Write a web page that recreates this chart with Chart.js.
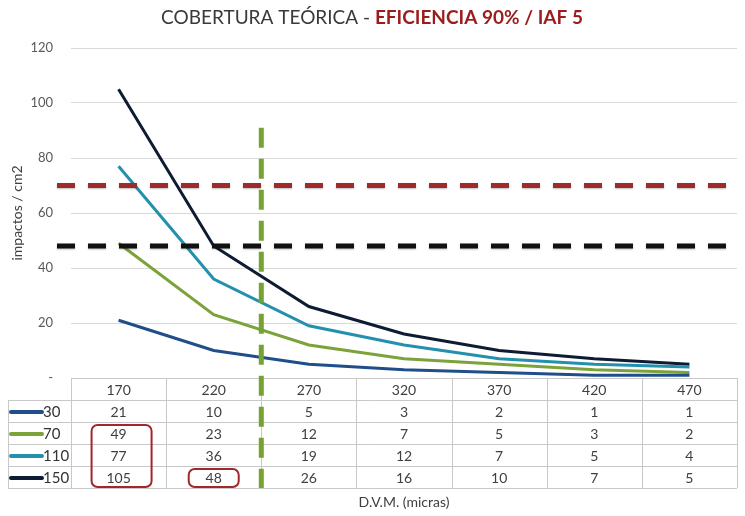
<!DOCTYPE html>
<html>
<head>
<meta charset="utf-8">
<script src="https://cdn.jsdelivr.net/npm/chart.js@4.4.1/dist/chart.umd.min.js"></script>
<style>
  html, body { margin: 0; padding: 0; background: #fff; }
</style>
</head>
<body>
<canvas id="chart" width="745" height="516"></canvas>
<script>
// D.V.M. (micras) categories and the four series (impactos / cm2)
const labels = ["170", "220", "270", "320", "370", "420", "470"];
const seriesNames = ["30", "70", "110", "150"];
const s30 = [21, 10, 5, 3, 2, 1, 1];
const s70 = [49, 23, 12, 7, 5, 3, 2];
const s110 = [77, 36, 19, 12, 7, 5, 4];
const s150 = [105, 48, 26, 16, 10, 7, 5];
const yTicks = [0, 20, 40, 60, 80, 100, 120];

// reference lines: horizontal thresholds and the vertical D.V.M. marker
const hLines = [70, 48];
const hLineColors = ["#9e2a2b", "#111111"];
const vLine = 245; // between 220 and 270

const seriesColors = ["#1f4e8a", "#7ba33a", "#2390ae", "#0d1b33"];
const seriesData = [s30, s70, s110, s150];

// red boxes around table cells: column index, first/last series row
const highlights = [
  { col: 0, from: 1, to: 3, half: 30, dx: 3 },
  { col: 1, from: 3, to: 3, half: 25, dx: 0 },
];

Chart.defaults.font.family = "Lato, 'Open Sans', sans-serif";

const TEXT = "#404040";
const BORDER = "#c8c8c8";
const ROW_H = 22;

const extras = {
  id: "extras",
  afterDatasetsDraw(chart) {
    const { ctx, chartArea, scales } = chart;
    const y = scales.y;
    ctx.save();
    ctx.lineWidth = 5;
    ctx.setLineDash([18, 13]);
    ctx.shadowColor = "rgba(0,0,0,0.25)";
    ctx.shadowBlur = 2;
    ctx.shadowOffsetY = 1;
    hLines.forEach((v, i) => {
      const py = y.getPixelForValue(v);
      ctx.strokeStyle = hLineColors[i];
      ctx.beginPath();
      ctx.moveTo(chartArea.left - 14, py);
      ctx.lineTo(chartArea.right - 10, py);
      ctx.stroke();
    });
    ctx.restore();
  },
  afterDraw(chart) {
    const { ctx, chartArea, scales } = chart;
    const x = scales.x, y = scales.y;
    const n = labels.length;
    const colW = (chartArea.right - chartArea.left) / n;
    const top = chartArea.bottom;
    const legendLeft = 8;
    const bottom = top + ROW_H * (seriesNames.length + 1);

    ctx.save();
    // table grid
    ctx.strokeStyle = BORDER;
    ctx.lineWidth = 1;
    ctx.beginPath();
    ctx.moveTo(chartArea.left, top + 0.5);
    ctx.lineTo(chartArea.right, top + 0.5);
    for (let r = 1; r <= seriesNames.length + 1; r++) {
      const py = Math.round(top + r * ROW_H) + 0.5;
      ctx.moveTo(legendLeft, py);
      ctx.lineTo(chartArea.right, py);
    }
    ctx.moveTo(legendLeft + 0.5, top + ROW_H);
    ctx.lineTo(legendLeft + 0.5, bottom);
    for (let i = 0; i <= n; i++) {
      const px = Math.round(chartArea.left + i * colW) + 0.5;
      ctx.moveTo(px, top);
      ctx.lineTo(px, bottom);
    }
    ctx.stroke();

    // header and values
    const cellFont = "14px Lato";
    ctx.fillStyle = TEXT;
    ctx.font = cellFont;
    ctx.textAlign = "center";
    ctx.textBaseline = "middle";
    labels.forEach((l, i) => {
      ctx.fillText(l, x.getPixelForValue(i), top + ROW_H / 2 + 1);
    });
    seriesData.forEach((arr, r) => {
      const cy = top + (r + 1) * ROW_H + ROW_H / 2 + 1;
      arr.forEach((v, i) => ctx.fillText(String(v), x.getPixelForValue(i), cy));
      // legend key
      ctx.strokeStyle = seriesColors[r];
      ctx.lineWidth = 4;
      ctx.lineCap = "round";
      ctx.beginPath();
      ctx.moveTo(11, cy);
      ctx.lineTo(42, cy);
      ctx.stroke();
      ctx.textAlign = "left";
      ctx.fillStyle = "#333";
      ctx.font = "15px Lato";
      ctx.fillText(seriesNames[r], 43, cy);
      ctx.textAlign = "center";
      ctx.fillStyle = TEXT;
      ctx.font = cellFont;
    });

    // red highlight boxes
    ctx.strokeStyle = "#a0282a";
    ctx.lineWidth = 2;
    highlights.forEach((h) => {
      const cx = x.getPixelForValue(h.col) + h.dx;
      const y0 = top + (h.from + 1) * ROW_H + 3;
      const y1 = top + (h.to + 2) * ROW_H - 1;
      ctx.beginPath();
      ctx.roundRect(cx - h.half, y0, h.half * 2, y1 - y0, 6);
      ctx.stroke();
    });

    // vertical green dashed marker
    const i0 = labels.indexOf("220"), i1 = labels.indexOf("270");
    const vx = x.getPixelForValue(i0) + (x.getPixelForValue(i1) - x.getPixelForValue(i0)) * (vLine - 220) / 50;
    ctx.strokeStyle = "#76a232";
    ctx.lineWidth = 5;
    ctx.lineCap = "butt";
    ctx.setLineDash([20, 11]);
    ctx.beginPath();
    ctx.moveTo(vx, y.getPixelForValue(91));
    ctx.lineTo(vx, bottom);
    ctx.stroke();
    ctx.setLineDash([]);

    // x axis title
    ctx.fillStyle = TEXT;
    ctx.font = "14px Lato";
    ctx.textAlign = "center";
    ctx.fillText("D.V.M. (micras)", (chartArea.left + chartArea.right) / 2, bottom + 14);

    // two-colour chart title
    const t1 = "COBERTURA TEÓRICA - ";
    const t2 = "EFICIENCIA 90% / IAF 5";
    const f1 = "19px Lato", f2 = "bold 19px Lato";
    ctx.font = f1;
    const w1 = ctx.measureText(t1).width;
    ctx.font = f2;
    const w2 = ctx.measureText(t2).width;
    const tx = 372 - (w1 + w2) / 2;
    ctx.textAlign = "left";
    ctx.font = f1;
    ctx.fillStyle = "#3a3a3a";
    ctx.fillText(t1, tx, 18);
    ctx.font = f2;
    ctx.fillStyle = "#9b1c1c";
    ctx.fillText(t2, tx + w1, 18);
    ctx.restore();
  },
};

new Chart(document.getElementById("chart"), {
  type: "line",
  data: {
    labels: labels,
    datasets: seriesNames.map((name, i) => ({
      label: name,
      data: seriesData[i],
      borderColor: seriesColors[i],
      backgroundColor: seriesColors[i],
      borderWidth: 3,
      pointRadius: 0,
      tension: 0,
    })),
  },
  options: {
    responsive: false,
    animation: false,
    layout: { padding: { top: 48, right: 8, bottom: 138, left: 0 } },
    plugins: {
      legend: { display: false },
      tooltip: { enabled: false },
    },
    scales: {
      x: {
        display: false,
        offset: true,
      },
      y: {
        min: 0,
        max: 120,
        afterBuildTicks: (scale) => {
          scale.ticks = yTicks.map((v) => ({ value: v }));
        },
        afterFit: (scale) => {
          scale.width = 71;
        },
        border: { display: false },
        grid: { color: "#d9d9d9", drawTicks: false },
        ticks: {
          padding: 18,
          color: "#595959",
          font: { size: 13 },
          callback: (v) => (v === 0 ? "-" : v),
        },
        title: {
          display: true,
          text: "impactos / cm2",
          color: TEXT,
          font: { size: 14 },
          padding: { top: 9, bottom: 0 },
        },
      },
    },
  },
  plugins: [extras],
});
</script>
</body>
</html>
